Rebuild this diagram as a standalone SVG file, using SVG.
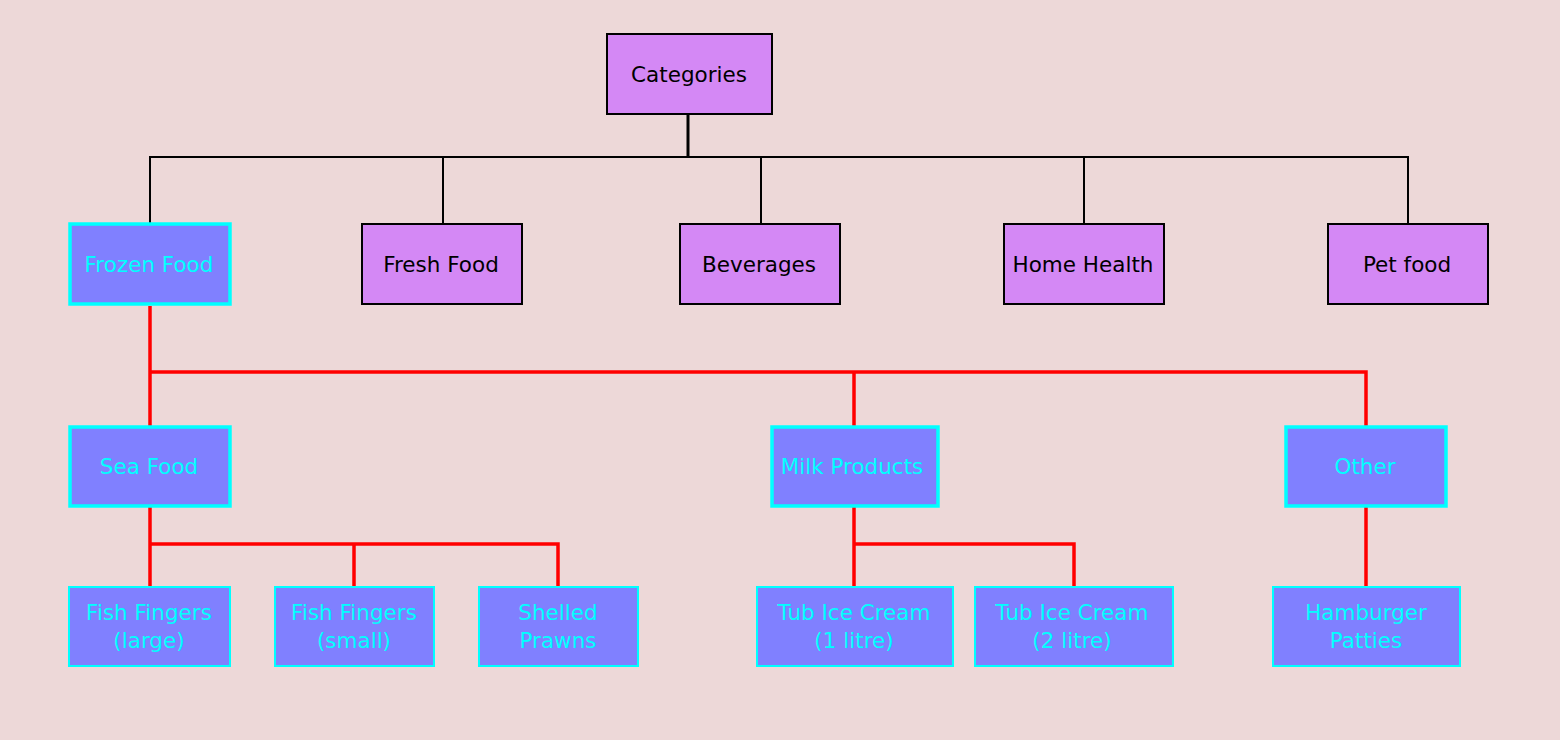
<svg xmlns="http://www.w3.org/2000/svg" width="1560" height="740" viewBox="0 0 1560 740">
<style>
.bg{fill:#EDD8D8}
.top{fill:#D488F5;stroke:#000;stroke-width:2}
.sel{fill:#8080FF;stroke:#00FFFF;stroke-width:3.5}
.leaf{fill:#8080FF;stroke:#00FFFF;stroke-width:2}
text{font-family:"DejaVu Sans","Liberation Sans",sans-serif;font-size:21.5px;text-anchor:middle}
.dk{fill:#000}
.cy{fill:#00FFFF}
.bl{fill:none;stroke:#000;stroke-width:1.5}
.rd{fill:none;stroke:#FF0000;stroke-width:3.5}
</style>
<rect class="bg" x="0" y="0" width="1560" height="740"/>
<g id="connectors">
<path class="bl" d="M688 114V157" style="stroke-width:3"/>
<path class="bl" d="M150 224V157H1408V224M443 157V224M761 157V224M1084 157V224" style="stroke-width:2"/>
<path class="rd" d="M150 306V426M150 372H1366V426M854 372V426"/>
<path class="rd" d="M150 507V586M150 544H558V586M354 544V586"/>
<path class="rd" d="M854 507V586M854 544H1074V586"/>
<path class="rd" d="M1366 507V586"/>
</g>
<g id="categories"><rect class="top" x="607" y="34" width="165" height="80"/><text class="dk" x="689" y="82">Categories</text></g>
<g id="frozen-food"><rect class="sel" x="70" y="224" width="160" height="80"/><text class="cy" x="149" y="272">Frozen Food</text></g>
<g id="fresh-food"><rect class="top" x="362" y="224" width="160" height="80"/><text class="dk" x="441" y="272">Fresh Food</text></g>
<g id="beverages"><rect class="top" x="680" y="224" width="160" height="80"/><text class="dk" x="759" y="272">Beverages</text></g>
<g id="home-health"><rect class="top" x="1004" y="224" width="160" height="80"/><text class="dk" x="1083" y="272">Home Health</text></g>
<g id="pet-food"><rect class="top" x="1328" y="224" width="160" height="80"/><text class="dk" x="1407" y="272">Pet food</text></g>
<g id="sea-food"><rect class="sel" x="70" y="427" width="160" height="79"/><text class="cy" x="149" y="474">Sea Food</text></g>
<g id="milk-products"><rect class="sel" x="772" y="427" width="166" height="79"/><text class="cy" x="852" y="474">Milk Products</text></g>
<g id="other"><rect class="sel" x="1286" y="427" width="160" height="79"/><text class="cy" x="1365" y="474">Other</text></g>
<g id="fish-fingers-large"><rect class="leaf" x="69" y="587" width="161" height="79"/><text class="cy" x="149" y="620">Fish Fingers</text><text class="cy" x="149" y="648">(large)</text></g>
<g id="fish-fingers-small"><rect class="leaf" x="275" y="587" width="159" height="79"/><text class="cy" x="354" y="620">Fish Fingers</text><text class="cy" x="354" y="648">(small)</text></g>
<g id="shelled-prawns"><rect class="leaf" x="479" y="587" width="159" height="79"/><text class="cy" x="558" y="620">Shelled</text><text class="cy" x="558" y="648">Prawns</text></g>
<g id="tub-1"><rect class="leaf" x="757" y="587" width="196" height="79"/><text class="cy" x="854" y="620">Tub Ice Cream</text><text class="cy" x="854" y="648">(1 litre)</text></g>
<g id="tub-2"><rect class="leaf" x="975" y="587" width="198" height="79"/><text class="cy" x="1072" y="620">Tub Ice Cream</text><text class="cy" x="1072" y="648">(2 litre)</text></g>
<g id="hamburger"><rect class="leaf" x="1273" y="587" width="187" height="79"/><text class="cy" x="1366" y="620">Hamburger</text><text class="cy" x="1366" y="648">Patties</text></g>
</svg>
